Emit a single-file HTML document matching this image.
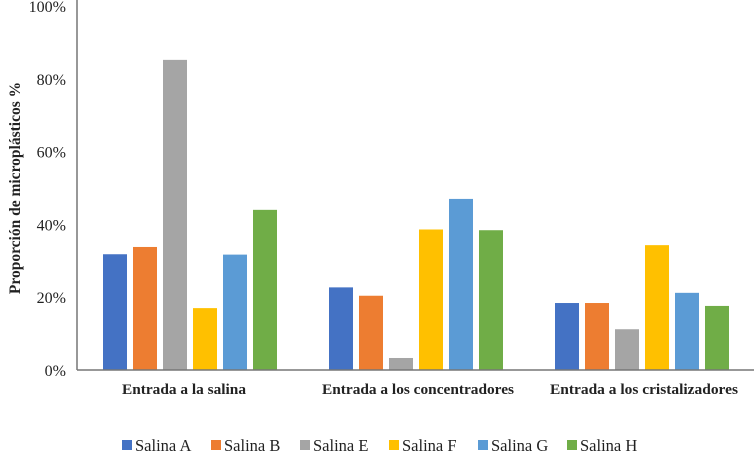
<!DOCTYPE html>
<html><head><meta charset="utf-8"><style>
body{margin:0;background:#fff;}
svg{display:block;font-family:"Liberation Serif",serif;}
</style></head><body>
<svg id="chart" width="754" height="452"></svg>
<script>
const categories=["Entrada a la salina","Entrada a los concentradores","Entrada a los cristalizadores"];
const seriesNames=["Salina A","Salina B","Salina E","Salina F","Salina G","Salina H"];
const salinaA=[31.8,22.7,18.4];
const salinaB=[33.8,20.4,18.4];
const salinaE=[85.2,3.3,11.2];
const salinaF=[17.0,38.6,34.3];
const salinaG=[31.7,47.0,21.2];
const salinaH=[44.0,38.4,17.6];
const yTicks=[0,20,40,60,80,100];
const series=[salinaA,salinaB,salinaE,salinaF,salinaG,salinaH];
const colors=["#4472C4","#ED7D31","#A5A5A5","#FFC000","#5B9BD5","#70AD47"];
const labelWidths=[124,192,188];
const labelShift=[-8,0,0];
const NS="http://www.w3.org/2000/svg";
const svg=document.getElementById('chart');
function mk(t,a,p){const e=document.createElementNS(NS,t);for(const k in a)e.setAttribute(k,a[k]);(p||svg).appendChild(e);return e;}
const y0=370,y100=6,xL=77;
function y(v){return y0-(y0-y100)*v/100;}
const groupStart=[103,328,555],step=30,bw=24;
function x(g,s){return groupStart[0]+(groupStart[2]-groupStart[0])/2*g+s*step;}
yTicks.forEach(t=>{
 const tx=mk('text',{x:66,y:y(t)+6,'text-anchor':'end','font-size':16,fill:'#222'});
 tx.textContent=t+'%';
 
 
});
series.forEach((vals,s)=>{vals.forEach((v,g)=>{
 const r=mk('rect',{x:x(g,s),y:y(v),width:bw,height:y0-y(v),fill:colors[s]});
 
 
});});
const ax=mk('line',{x1:xL,y1:y0,x2:754,y2:y0,stroke:'#777','stroke-width':1.5});

const ay=mk('line',{x1:xL,y1:0,x2:xL,y2:y0,stroke:'#777','stroke-width':1.5});

categories.forEach((c,g)=>{
 const t=mk('text',{x:x(g,0)+89+labelShift[g],y:394,'text-anchor':'middle','font-size':15,'font-weight':'bold',fill:'#222',textLength:labelWidths[g],lengthAdjust:'spacingAndGlyphs'});
 t.textContent=c;
 
 
});
const yt=mk('text',{x:0,y:0,transform:'translate(20,188) rotate(-90)','text-anchor':'middle','font-size':15.5,'font-weight':'bold',fill:'#222'});
yt.textContent='Proporción de microplásticos %';


seriesNames.forEach((n,i)=>{
 const lx=122+i*89;
 const sq=mk('rect',{x:lx,y:440,width:10,height:10,fill:colors[i]});
 
 
 const t=mk('text',{x:lx+13,y:451,'font-size':16.5,fill:'#222'});
 t.textContent=n;
 
 
});
</script>
</body></html>
